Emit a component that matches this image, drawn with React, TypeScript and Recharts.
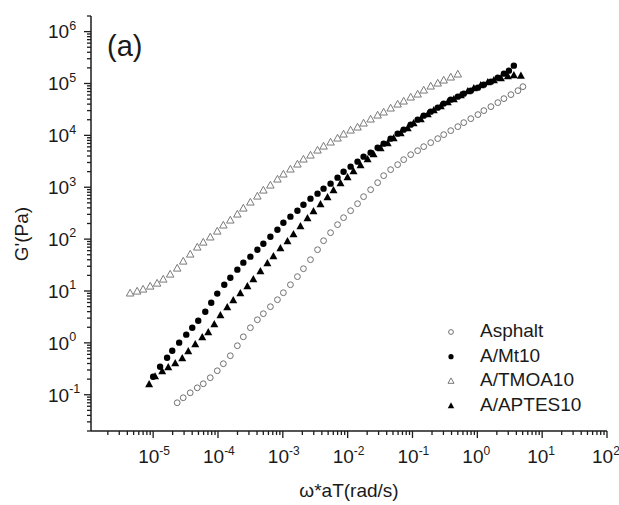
import React from 'react';
import { ScatterChart, Scatter, XAxis, YAxis, Legend } from 'recharts';

const FONT = '"Liberation Sans", Arial, Helvetica, sans-serif';
const AXIS_COLOR = '#1c1c1c';
const TEXT_COLOR = '#1a1a1a';

// ---------- data ----------
const seriesNames = ['Asphalt', 'A/Mt10', 'A/TMOA10', 'A/APTES10'];

const asphaltFreq = [2.35e-5, 2.91e-5, 3.73e-5, 4.79e-5, 5.93e-5, 7.60e-5, 9.75e-5, 1.21e-4, 1.55e-4, 1.99e-4, 2.46e-4, 3.16e-4, 4.05e-4, 5.01e-4, 6.43e-4, 8.26e-4, 1.02e-3, 1.31e-3, 1.68e-3, 2.08e-3, 2.67e-3, 3.43e-3, 4.25e-3, 5.45e-3, 6.98e-3, 8.65e-3, 1.11e-2, 1.42e-2, 1.76e-2, 2.26e-2, 2.90e-2, 3.59e-2, 4.60e-2, 5.90e-2, 7.31e-2, 9.38e-2, 0.120, 0.149, 0.191, 0.245, 0.303, 0.389, 0.500, 0.618, 0.794, 1.02, 1.26, 1.62, 2.07, 2.57, 3.30, 4.23, 5.05];
const asphaltG = [0.0701, 0.0875, 0.109, 0.136, 0.163, 0.213, 0.290, 0.396, 0.565, 0.881, 1.31, 1.96, 2.79, 3.65, 4.98, 6.79, 9.27, 13.2, 18.9, 26.9, 40.1, 62.5, 93.3, 133, 190, 259, 353, 482, 658, 897, 1225, 1672, 2183, 2725, 3402, 4246, 5071, 6056, 7239, 8646, 10330, 12330, 14730, 17590, 21000, 25120, 29990, 35810, 42760, 51050, 60950, 72780, 86900];

const mt10Freq = [1.0e-5, 1.28e-5, 1.64e-5, 1.97e-5, 2.52e-5, 3.24e-5, 4.01e-5, 4.96e-5, 6.37e-5, 7.87e-5, 9.75e-5, 1.25e-4, 1.55e-4, 1.99e-4, 2.46e-4, 3.16e-4, 4.05e-4, 5.01e-4, 6.43e-4, 8.26e-4, 1.02e-3, 1.31e-3, 1.68e-3, 2.08e-3, 2.67e-3, 3.43e-3, 4.25e-3, 5.45e-3, 6.98e-3, 8.65e-3, 1.11e-2, 1.42e-2, 1.76e-2, 2.26e-2, 2.90e-2, 3.59e-2, 4.60e-2, 5.90e-2, 7.31e-2, 9.38e-2, 0.120, 0.149, 0.191, 0.245, 0.303, 0.389, 0.500, 0.618, 0.794, 1.02, 1.26, 1.62, 2.07, 2.57, 3.07, 3.66];
const mt10G = [0.222, 0.347, 0.518, 0.706, 1.01, 1.44, 1.96, 2.67, 3.99, 5.95, 8.9, 13.2, 18.0, 25.8, 35.2, 45.9, 62.5, 81.6, 111, 152, 207, 271, 353, 461, 603, 752, 939, 1172, 1531, 1995, 2494, 3112, 3890, 4645, 5794, 6918, 8646, 10790, 12880, 16100, 20100, 23990, 28650, 34200, 40930, 48860, 55800, 63680, 72780, 83180, 95070, 108600, 129700, 154900, 177000, 220900];

const tmoaFreq = [4.41e-6, 5.66e-6, 7.0e-6, 9.0e-6, 1.15e-5, 1.43e-5, 1.83e-5, 2.35e-5, 2.91e-5, 3.73e-5, 4.79e-5, 5.93e-5, 7.60e-5, 9.75e-5, 1.21e-4, 1.55e-4, 1.99e-4, 2.46e-4, 3.16e-4, 4.05e-4, 5.01e-4, 6.43e-4, 8.26e-4, 1.02e-3, 1.31e-3, 1.68e-3, 2.08e-3, 2.67e-3, 3.43e-3, 4.25e-3, 5.45e-3, 6.98e-3, 8.65e-3, 1.11e-2, 1.42e-2, 1.76e-2, 2.26e-2, 2.90e-2, 3.59e-2, 4.60e-2, 5.90e-2, 7.31e-2, 9.38e-2, 0.120, 0.149, 0.191, 0.245, 0.303, 0.389, 0.500];
const tmoaG = [8.9, 9.7, 10.6, 12.1, 13.8, 16.5, 20.6, 26.9, 36.7, 50.1, 68.4, 85.3, 107, 139, 182, 227, 296, 386, 504, 658, 859, 1072, 1400, 1749, 2183, 2725, 3402, 4062, 5071, 6056, 7239, 8646, 10330, 12330, 14090, 16830, 20100, 23990, 27420, 32740, 39090, 44670, 53350, 60950, 72780, 86900, 99300, 113500, 129700, 148200];

const aptesFreq = [8.67e-6, 1.07e-5, 1.38e-5, 1.71e-5, 2.19e-5, 2.81e-5, 3.48e-5, 4.46e-5, 5.72e-5, 7.08e-5, 8.77e-5, 1.09e-4, 1.39e-4, 1.72e-4, 2.21e-4, 2.84e-4, 3.51e-4, 4.51e-4, 5.78e-4, 7.16e-4, 9.18e-4, 1.18e-3, 1.46e-3, 1.87e-3, 2.40e-3, 2.97e-3, 3.81e-3, 4.89e-3, 6.05e-3, 7.76e-3, 9.96e-3, 1.23e-2, 1.58e-2, 2.03e-2, 2.51e-2, 3.22e-2, 4.14e-2, 5.12e-2, 6.57e-2, 8.43e-2, 0.104, 0.134, 0.172, 0.213, 0.273, 0.350, 0.434, 0.556, 0.713, 0.883, 1.13, 1.45, 1.80, 2.31, 2.96, 3.66, 4.70];
const aptesG = [0.156, 0.222, 0.278, 0.332, 0.396, 0.494, 0.675, 0.921, 1.26, 1.57, 2.24, 3.34, 4.77, 6.50, 8.9, 12.1, 16.5, 23.6, 33.6, 45.9, 65.4, 89.3, 122, 174, 248, 338, 461, 630, 859, 1172, 1531, 1995, 2606, 3402, 4246, 5546, 6918, 8646, 10790, 13490, 16830, 20100, 25120, 29990, 35810, 42760, 48860, 58340, 69660, 79620, 90950, 103900, 113500, 124100, 135600, 141800, 139000];

// axis setup
const xDomain: [number, number] = [1.1e-6, 100];
const yDomain: [number, number] = [0.02, 2e6];
const minorMultipliers = [2, 3, 4, 5, 6, 7, 8, 9];

const zip = (xs: number[], ys: number[]) => xs.map((x, i) => ({ x, y: ys[i] }));
const asphaltData = zip(asphaltFreq, asphaltG);
const mt10Data = zip(mt10Freq, mt10G);
const tmoaData = zip(tmoaFreq, tmoaG);
const aptesData = zip(aptesFreq, aptesG);

function logTicks(domain: [number, number]) {
  const lo = Math.floor(Math.log10(domain[0]));
  const hi = Math.ceil(Math.log10(domain[1]));
  const out: number[] = [];
  for (let e = lo; e <= hi; e++) {
    const base = Math.pow(10, e);
    out.push(base);
    for (const m of minorMultipliers) out.push(m * base);
  }
  return out.filter((v) => v >= domain[0] * (1 - 1e-9) && v <= domain[1] * (1 + 1e-9));
}
const xTicks = logTicks(xDomain);
const yTicks = logTicks(yDomain);

const MAJOR_LEN = 7;
const MINOR_LEN = 4;

function tickInfo(v: number) {
  const l = Math.log10(v);
  const e = Math.round(l);
  return { major: Math.abs(l - e) < 1e-6, e };
}

const BottomTick = (props: any) => {
  const { x, y, payload } = props;
  const { major, e } = tickInfo(payload.value);
  return (
    <g>
      <line x1={x} x2={x} y1={y} y2={y + (major ? MAJOR_LEN : MINOR_LEN)} stroke={AXIS_COLOR} strokeWidth={1.3} />
      {major && (
        <text x={x - 15} y={y + 32} textAnchor="start" fontFamily={FONT} fontSize={19} fill={TEXT_COLOR}>
          10
          <tspan dy={-8.5} fontSize={12}>{String(e)}</tspan>
        </text>
      )}
    </g>
  );
};

const TopTick = (props: any) => {
  const { x, y, payload } = props;
  const { major } = tickInfo(payload.value);
  return <line x1={x} x2={x} y1={y} y2={y + (major ? MAJOR_LEN : MINOR_LEN)} stroke={AXIS_COLOR} strokeWidth={1.3} />;
};

const LeftTick = (props: any) => {
  const { x, y, payload } = props;
  const { major, e } = tickInfo(payload.value);
  return (
    <g>
      <line x1={x} x2={x - (major ? MAJOR_LEN : MINOR_LEN)} y1={y} y2={y} stroke={AXIS_COLOR} strokeWidth={1.3} />
      {major && (
        <text x={x - 43} y={y + 6.8} textAnchor="start" fontFamily={FONT} fontSize={19} fill={TEXT_COLOR}>
          10
          <tspan dy={-8.5} fontSize={12.5}>{String(e)}</tspan>
        </text>
      )}
    </g>
  );
};

const RightTick = (props: any) => {
  const { x, y, payload } = props;
  const { major } = tickInfo(payload.value);
  return <line x1={x} x2={x - (major ? MAJOR_LEN : MINOR_LEN)} y1={y} y2={y} stroke={AXIS_COLOR} strokeWidth={1.3} />;
};

// marker shapes
const OpenCircle = ({ cx, cy, r = 2.9 }: any) => (
  <circle cx={cx} cy={cy} r={r} fill="none" stroke="#707070" strokeWidth={1} />
);
const FilledCircle = ({ cx, cy, r = 3.2 }: any) => <circle cx={cx} cy={cy} r={r} fill="#000" />;
const triPath = (cx: number, cy: number, s: number) =>
  `M${cx},${cy - s * 0.58} L${cx - s / 2},${cy + s * 0.32} L${cx + s / 2},${cy + s * 0.32} Z`;
const OpenTriangle = ({ cx, cy, s = 7.5 }: any) => (
  <path d={triPath(cx, cy, s)} fill="none" stroke="#7a7a7a" strokeWidth={1} />
);
const FilledTriangle = ({ cx, cy, s = 8 }: any) => <path d={triPath(cx, cy, s)} fill="#000" />;

const markerShapes = [OpenCircle, FilledCircle, OpenTriangle, FilledTriangle];
const legendSizes = [{ r: 2.4 }, { r: 2.6 }, { s: 6 }, { s: 6.5 }];

const LegendBox = () => (
  <svg width={180} height={110} style={{ display: 'block', overflow: 'visible' }}>
    {seriesNames.map((name, i) => {
      const Shape = markerShapes[i];
      const baseline = 22 + i * 24.7;
      return (
        <g key={name}>
          <Shape cx={21} cy={baseline - 5} {...legendSizes[i]} />
          <text x={50} y={baseline} fontFamily={FONT} fontSize={19} fill={TEXT_COLOR}>
            {name}
          </text>
        </g>
      );
    })}
  </svg>
);

const axisLine = { stroke: AXIS_COLOR, strokeWidth: 1.5 };

export default function App() {
  return (
    <div style={{ position: 'absolute', left: 0, top: 0, width: 619, height: 505, background: '#fff' }}>
      <ScatterChart width={619} height={505} margin={{ top: 16, right: 12, left: 0, bottom: 0 }}>
        <XAxis
          dataKey="x"
          type="number"
          scale="log"
          domain={xDomain}
          allowDataOverflow
          ticks={xTicks}
          interval={0}
          height={74}
          tickSize={0}
          tickMargin={0}
          tickLine={false}
          tick={<BottomTick />}
          axisLine={axisLine}
          label={{
            value: 'ω*aT(rad/s)',
            position: 'insideBottom',
            offset: 8,
            style: { fontFamily: FONT, fontSize: 19, fill: TEXT_COLOR },
          }}
        />
        <XAxis
          xAxisId="top"
          orientation="top"
          dataKey="x"
          type="number"
          scale="log"
          domain={xDomain}
          allowDataOverflow
          ticks={xTicks}
          interval={0}
          height={0}
          mirror
          tickSize={0}
          tickMargin={0}
          tickLine={false}
          tick={<TopTick />}
          axisLine={axisLine}
        />
        <YAxis
          dataKey="y"
          type="number"
          scale="log"
          domain={yDomain}
          allowDataOverflow
          ticks={yTicks}
          interval={0}
          width={91}
          tickSize={0}
          tickMargin={0}
          tickLine={false}
          tick={<LeftTick />}
          axisLine={axisLine}
          label={{
            content: () => (
              <text
                x={28}
                y={234}
                transform="rotate(-90 28 234)"
                textAnchor="middle"
                fontFamily={FONT}
                fontSize={19}
                fill={TEXT_COLOR}
              >
                G'(Pa)
              </text>
            ),
          }}
        />
        <YAxis
          yAxisId="right"
          orientation="right"
          dataKey="y"
          type="number"
          scale="log"
          domain={yDomain}
          allowDataOverflow
          ticks={yTicks}
          interval={0}
          width={0}
          mirror
          tickSize={0}
          tickMargin={0}
          tickLine={false}
          tick={<RightTick />}
          axisLine={axisLine}
        />
        <Scatter name={seriesNames[0]} data={asphaltData} shape={(p: any) => <OpenCircle cx={p.cx} cy={p.cy} />} isAnimationActive={false} />
        <Scatter name={seriesNames[2]} data={tmoaData} shape={(p: any) => <OpenTriangle cx={p.cx} cy={p.cy} />} isAnimationActive={false} />
        <Scatter name={seriesNames[3]} data={aptesData} shape={(p: any) => <FilledTriangle cx={p.cx} cy={p.cy} />} isAnimationActive={false} />
        <Scatter name={seriesNames[1]} data={mt10Data} shape={(p: any) => <FilledCircle cx={p.cx} cy={p.cy} />} isAnimationActive={false} />
        <Legend
          layout="vertical"
          align="center"
          verticalAlign="middle"
          content={() => <LegendBox />}
          wrapperStyle={{ position: 'absolute', left: 430, top: 315, width: 180, height: 110 }}
        />
      </ScatterChart>
      <svg width={619} height={505} style={{ position: 'absolute', left: 0, top: 0, pointerEvents: 'none' }}>
        <text x={107} y={56} fontFamily={FONT} fontSize={29} fill={TEXT_COLOR}>
          (a)
        </text>
      </svg>
    </div>
  );
}
